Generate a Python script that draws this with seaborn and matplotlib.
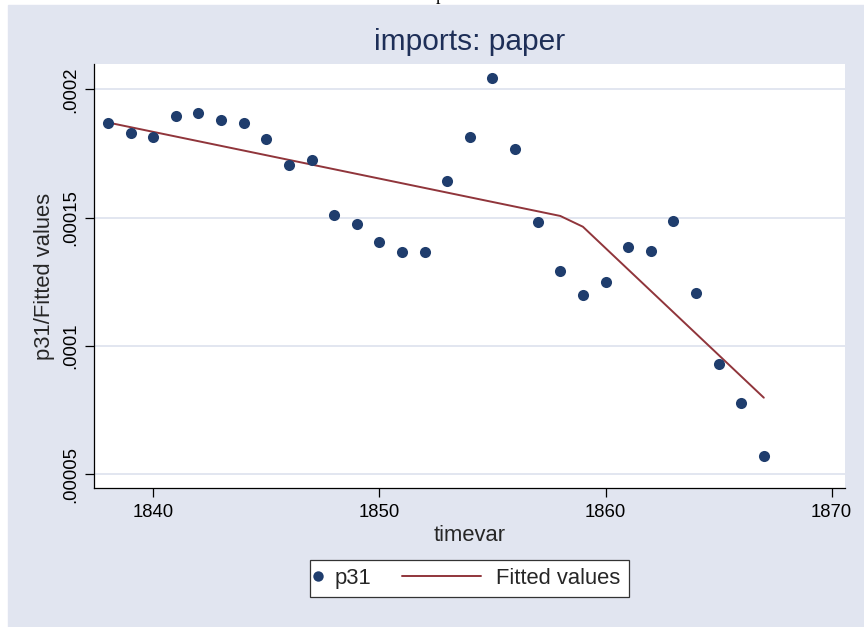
import numpy as np
import pandas as pd
import matplotlib
matplotlib.use("Agg")
import matplotlib.pyplot as plt
from matplotlib.lines import Line2D
from matplotlib.patches import Rectangle
from matplotlib.legend_handler import HandlerLine2D
import seaborn as sns

# data
years = list(range(1838, 1868))
p31 = [0.0001871, 0.0001830, 0.0001813, 0.0001897, 0.0001910, 0.0001879,
       0.0001869, 0.0001805, 0.0001705, 0.0001726, 0.0001511, 0.0001474,
       0.0001407, 0.0001365, 0.0001368, 0.0001642, 0.0001813, 0.0002043,
       0.0001768, 0.0001484, 0.0001294, 0.0001198, 0.0001250, 0.0001385,
       0.0001369, 0.0001488, 0.0001206, 0.0000932, 0.0000778, 0.0000571]
fit_years = [1838, 1858, 1859, 1867]
fit_vals = [0.0001871, 0.0001507, 0.0001465, 0.0000799]
xticks = [1840, 1850, 1860, 1870]
yticks = [0.00005, 0.0001, 0.00015, 0.0002]
ytick_labels = [".00005", ".0001", ".00015", ".0002"]

navy = "#1f3d6d"
maroon = "#90353b"
bg = "#e1e5f0"
grid = "#dde2ee"

sns.set_style("white")
plt.rcParams["font.family"] = ["Liberation Sans", "DejaVu Sans"]


class LongLine(HandlerLine2D):
    """legend key line drawn to the left of its (zero width) box"""

    def create_artists(self, legend, orig_handle, xdescent, ydescent,
                       width, height, fontsize, trans):
        y = height / 2 - ydescent
        ln = Line2D([-3.6 * fontsize, width], [y, y],
                    color=orig_handle.get_color(), lw=orig_handle.get_linewidth())
        ln.set_transform(trans)
        return [ln]


df = pd.DataFrame({"timevar": years, "p31": p31})
fit = pd.DataFrame({"timevar": fit_years, "fit": fit_vals})

fig = plt.figure(figsize=(8.64, 6.27), dpi=100, facecolor="white")
fig.add_artist(Rectangle((8 / 864, 0), 1 - 8 / 864, 1 - 5 / 627,
                         transform=fig.transFigure, color=bg, zorder=-10))
# clipped heading fragment at the very top of the reference
fig.text(436 / 864, 1.0, "p", family="Liberation Serif", fontsize=13,
         va="baseline", ha="left", color="black")

ax = fig.add_axes([94 / 864, 1 - 488.3 / 627, 751 / 864, 424.3 / 627])
ax.set_facecolor("white")

sns.lineplot(data=fit, x="timevar", y="fit", color=maroon, lw=1.4, ax=ax,
             zorder=2)
sns.scatterplot(data=df, x="timevar", y="p31", color=navy, s=64,
                linewidth=0, ax=ax, zorder=3)

ax.set_xlim(1837.38, 1870.59)
ax.set_ylim(0.0000446, 0.0002099)
ax.set_xticks(xticks)
ax.set_yticks(yticks)
ax.set_yticklabels(ytick_labels)
ax.yaxis.grid(True, color=grid, lw=1.2)
ax.set_axisbelow(True)

for side in ["top", "right"]:
    ax.spines[side].set_visible(False)
for side in ["left", "bottom"]:
    ax.spines[side].set_color("black")
    ax.spines[side].set_linewidth(0.9)

ax.tick_params(axis="both", direction="out", length=6.5, width=0.9,
               colors="black", labelsize=13.3, left=True, bottom=True)
ax.tick_params(axis="y", labelrotation=90, pad=4)
ax.tick_params(axis="x", pad=5)
for lbl in ax.get_yticklabels():
    lbl.set_va("center")

ax.set_xlabel("timevar", fontsize=15.8, labelpad=3)
ax.set_ylabel("p31/Fitted values", fontsize=15.8, labelpad=5)
ax.set_title("imports: paper", fontsize=21.5, color="#1e2f58", pad=10)

dot = Line2D([], [], marker="o", ls="", color=navy, markersize=7.5,
             markeredgewidth=0)
line = Line2D([], [], color=maroon, lw=1.4)
leg = fig.legend([dot, line], ["p31", "Fitted values"], loc="center",
                 bbox_to_anchor=(469.5 / 864, 0.0774), ncol=2,
                 handlelength=0, handletextpad=0.72, columnspacing=5.0,
                 borderpad=0.38, fontsize=15.8, frameon=True, fancybox=False,
                 edgecolor="#333333", framealpha=1,
                 handler_map={line: LongLine()})
leg.get_frame().set_linewidth(0.9)

fig.savefig("out.png", dpi=100, facecolor=fig.get_facecolor())
